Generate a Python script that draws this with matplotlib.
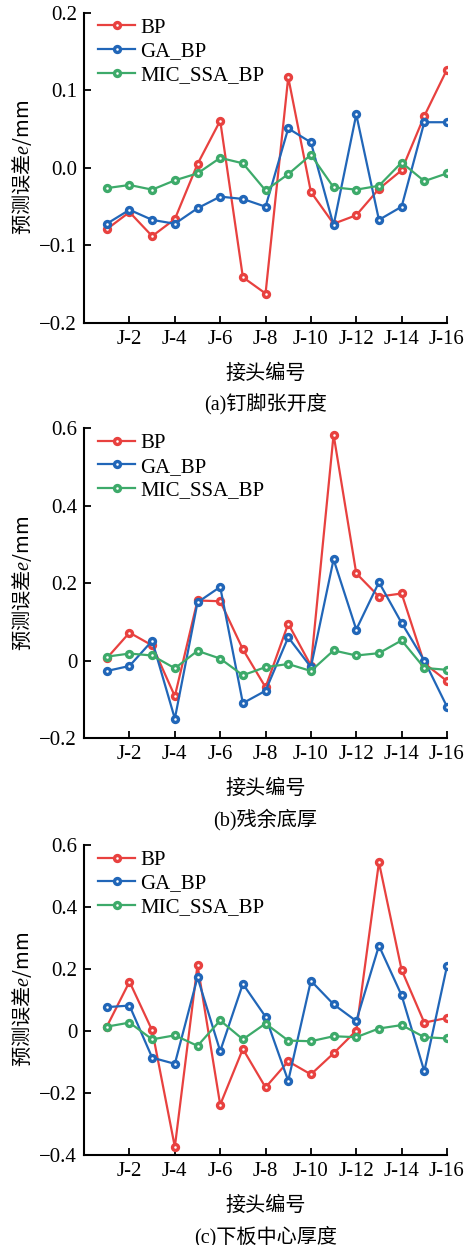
import matplotlib
matplotlib.use('Agg')
import matplotlib.pyplot as plt

plt.rcParams['font.family'] = ['Liberation Serif', 'Noto Sans CJK SC']
plt.rcParams['mathtext.fontset'] = 'custom'
plt.rcParams['mathtext.it'] = 'Liberation Serif:italic'
plt.rcParams['mathtext.rm'] = 'Liberation Serif'

# 接头编号
joints = list(range(1, 17))
tick_pos = [2, 4, 6, 8, 10, 12, 14, 16]
tick_labels = ['J-2', 'J-4', 'J-6', 'J-8', 'J-10', 'J-12', 'J-14', 'J-16']

# (a) 钉脚张开度
a_bp = [-0.079, -0.057, -0.088, -0.066, 0.005, 0.061, -0.141, -0.162,
        0.117, -0.031, -0.072, -0.061, -0.027, -0.003, 0.067, 0.127]
a_ga = [-0.072, -0.054, -0.067, -0.072, -0.052, -0.037, -0.040, -0.050,
        0.051, 0.033, -0.074, 0.069, -0.067, -0.050, 0.059, 0.059]
a_mic = [-0.026, -0.022, -0.028, -0.016, -0.007, 0.013, 0.006, -0.029,
         -0.008, 0.017, -0.025, -0.028, -0.023, 0.007, -0.017, -0.007]

# (b) 残余底厚
b_bp = [0.006, 0.072, 0.039, -0.092, 0.155, 0.153, 0.029, -0.069,
        0.095, -0.013, 0.583, 0.225, 0.165, 0.173, -0.007, -0.053]
b_ga = [-0.027, -0.014, 0.051, -0.150, 0.150, 0.190, -0.110, -0.078,
        0.060, -0.017, 0.261, 0.080, 0.202, 0.097, 0.0, -0.119]
b_mic = [0.010, 0.018, 0.013, -0.020, 0.025, 0.005, -0.038, -0.017,
         -0.009, -0.027, 0.026, 0.013, 0.019, 0.052, -0.019, -0.024]

# (c) 下板中心厚度
c_bp = [0.014, 0.159, 0.002, -0.374, 0.213, -0.238, -0.058, -0.182,
        -0.098, -0.140, -0.072, 0.001, 0.544, 0.197, 0.027, 0.042]
c_ga = [0.077, 0.082, -0.086, -0.106, 0.173, -0.065, 0.152, 0.046,
        -0.161, 0.162, 0.086, 0.032, 0.275, 0.115, -0.130, 0.209]
c_mic = [0.014, 0.027, -0.027, -0.014, -0.048, 0.034, -0.027, 0.024,
         -0.031, -0.033, -0.017, -0.020, 0.008, 0.019, -0.020, -0.024]

panels = [
    (a_bp, a_ga, a_mic, (-0.2, 0.2), [-0.2, -0.1, 0.0, 0.1, 0.2],
     ['\u22120.2', '\u22120.1', '0.0', '0.1', '0.2'], '(a)钉脚张开度'),
    (b_bp, b_ga, b_mic, (-0.2, 0.6), [-0.2, 0, 0.2, 0.4, 0.6],
     ['\u22120.2', '0', '0.2', '0.4', '0.6'], '(b)残余底厚'),
    (c_bp, c_ga, c_mic, (-0.4, 0.6), [-0.4, -0.2, 0, 0.2, 0.4, 0.6],
     ['\u22120.4', '\u22120.2', '0', '0.2', '0.4', '0.6'], '(c)下板中心厚度'),
]

colors = {'BP': '#E8413F', 'GA_BP': '#2166B8', 'MIC_SSA_BP': '#3DAA6A'}

fig = plt.figure(figsize=(4.7, 12.45), dpi=100)

# 子图位置 (left, bottom, width, height)
boxes = [(0.179, 0.7406, 0.772, 0.249),
         (0.179, 0.4072, 0.772, 0.249),
         (0.179, 0.0723, 0.772, 0.249)]

for box, (bp, ga, mic, ylim, yt, ytl, cap) in zip(boxes, panels):
    ax = fig.add_axes(box)
    for name, vals in [('BP', bp), ('GA_BP', ga), ('MIC_SSA_BP', mic)]:
        ax.plot(joints, vals, '-o', color=colors[name], lw=1.6,
                ms=4.3, mfc='white', mec=colors[name], mew=2.4, label=name)
    ax.set_xlim(0, 16)
    ax.set_ylim(*ylim)
    ax.set_xticks(tick_pos)
    ax.set_xticklabels(tick_labels)
    ax.set_yticks(yt)
    ax.set_yticklabels(ytl)
    ax.spines['top'].set_visible(False)
    ax.spines['right'].set_visible(False)
    ax.spines['left'].set_linewidth(1.5)
    ax.spines['bottom'].set_linewidth(1.5)
    ax.tick_params(axis='both', direction='in', length=5, width=1.3, labelsize=15)
    ax.tick_params(axis='x', pad=5)
    ax.tick_params(axis='y', pad=5)
    ax.set_ylabel('预测误差$e$/mm', fontsize=14.5, labelpad=4,
                  family='Noto Sans CJK SC')
    ax.set_xlabel('接头编号', fontsize=14.5, labelpad=11)
    ax.legend(loc='upper left', frameon=False, fontsize=15, handlelength=1.8,
              handletextpad=0.25, labelspacing=0.2, borderaxespad=0.0,
              bbox_to_anchor=(0.015, 1.01))
    ax.text(0.5, -0.262, cap, transform=ax.transAxes, ha='center', va='center',
            fontsize=14.5)

fig.savefig('out.png', dpi=100)
